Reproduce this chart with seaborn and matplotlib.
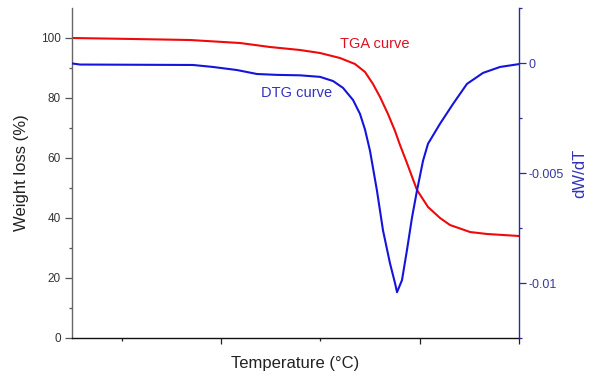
import numpy as np
import pandas as pd
import matplotlib
matplotlib.use("Agg")
import matplotlib.pyplot as plt
from matplotlib.ticker import FixedLocator, FixedFormatter
import seaborn as sns

# ---- data ----
tga_temp = [50.0, 111.4, 168.8, 219.1, 249.3, 279.5, 299.7, 319.8, 334.9, 345.0,
            353.0, 360.1, 368.1, 375.2, 380.2, 387.2, 397.3, 408.4, 420.5, 430.5,
            450.7, 467.8, 500.0]
tga_weight = [100.0, 99.67, 99.33, 98.33, 97.0, 96.0, 95.0, 93.33, 91.33, 88.67,
              84.67, 80.33, 74.67, 69.0, 64.33, 58.33, 49.33, 43.67, 40.0, 37.67,
              35.33, 34.67, 34.0]

dtg_temp = [50.0, 58.1, 171.8, 191.9, 216.1, 236.2, 256.4, 279.5, 299.7, 312.8,
            322.8, 332.9, 339.9, 345.0, 350.0, 357.0, 363.1, 370.1, 375.2, 377.2,
            382.2, 387.2, 392.3, 397.3, 403.4, 408.4, 414.4, 420.5, 433.6, 447.6,
            463.8, 480.9, 500.0]
dtg_value = [-0.00002, -0.00007, -0.00009, -0.00018, -0.00032, -0.00050, -0.00054,
             -0.00056, -0.00063, -0.00082, -0.00113, -0.00168, -0.00231, -0.00303,
             -0.00399, -0.00580, -0.00761, -0.00910, -0.01001, -0.01042, -0.00987,
             -0.00851, -0.00702, -0.00580, -0.00444, -0.00367, -0.00322, -0.00276,
             -0.00186, -0.00095, -0.00045, -0.00018, -0.00005]

left_ticks = [0, 20, 40, 60, 80, 100]
right_ticks = [0.0, -0.005, -0.01]
right_tick_labels = ["0", "-0.005", "-0.01"]

tga = pd.DataFrame({"T": tga_temp, "W": tga_weight})
dtg = pd.DataFrame({"T": dtg_temp, "D": dtg_value})

sns.set_style("ticks")
plt.rcParams["font.family"] = ["Liberation Sans", "DejaVu Sans"]

RED = "#ee0a0a"
BLUE = "#1414dc"
NAVY = "#2a2a9a"

fig = plt.figure(figsize=(5.94, 3.77), dpi=100)
ax = fig.add_axes([72 / 594, 1 - 338 / 377, (519 - 72) / 594, (338 - 8) / 377])
ax2 = ax.twinx()

sns.lineplot(data=tga, x="T", y="W", ax=ax, color=RED, lw=1.5)
sns.lineplot(data=dtg, x="T", y="D", ax=ax2, color=BLUE, lw=1.5)

ax.set_xlim(50, 500)
ax.set_ylim(0, 110)
ax2.set_ylim(-0.0125, 0.0025)

# x ticks (no labels)
ax.xaxis.set_major_locator(FixedLocator([200, 400, 500]))
ax.xaxis.set_minor_locator(FixedLocator([100, 300]))
ax.tick_params(axis="x", which="both", labelbottom=False)
ax.tick_params(axis="x", which="major", length=4, width=0.9, color="#222222")
ax.tick_params(axis="x", which="minor", length=2.5, width=0.9, color="#222222")

# left y
ax.yaxis.set_major_locator(FixedLocator(left_ticks))
ax.yaxis.set_minor_locator(FixedLocator([10, 30, 50, 70, 90]))
ax.tick_params(axis="y", which="major", length=5, width=0.9, color="#555555",
               labelsize=8.5, labelcolor="#333333", pad=3)
ax.tick_params(axis="y", which="minor", length=2.5, width=0.9, color="#555555")

# right y
ax2.yaxis.set_major_locator(FixedLocator(right_ticks))
ax2.yaxis.set_major_formatter(FixedFormatter(right_tick_labels))
ax2.yaxis.set_minor_locator(FixedLocator([0.0025, -0.0025, -0.0075, -0.0125]))
ax2.tick_params(axis="y", which="major", length=5, width=0.9, color=NAVY,
                labelsize=9, labelcolor="#3a3aa0", pad=2)
ax2.tick_params(axis="y", which="minor", length=2.5, width=0.9, color=NAVY)

ax.spines["top"].set_visible(False)
ax2.spines["top"].set_visible(False)
ax.spines["right"].set_visible(False)
ax2.spines["left"].set_visible(False)
ax2.spines["bottom"].set_visible(False)
ax.spines["left"].set_color("#666666")
ax.spines["left"].set_linewidth(1.0)
ax.spines["bottom"].set_color("#111111")
ax.spines["bottom"].set_linewidth(1.0)
ax2.spines["right"].set_color(NAVY)
ax2.spines["right"].set_linewidth(1.0)

ax.set_xlabel("Temperature (°C)", fontsize=12, color="#222222")
ax.xaxis.set_label_coords(0.5, -0.055)
ax.set_ylabel("Weight loss (%)", fontsize=12, color="#222222", labelpad=9)
ax2.set_ylabel("dW/dT", fontsize=12, color="#3333bb", labelpad=6)

ax.text(355.0, 98.0, "TGA curve", color="#dd1122", fontsize=10.5, ha="center", va="center")
ax.text(276.5, 81.7, "DTG curve", color="#3333bb", fontsize=10.5, ha="center", va="center")

fig.savefig("out.png", dpi=100)
